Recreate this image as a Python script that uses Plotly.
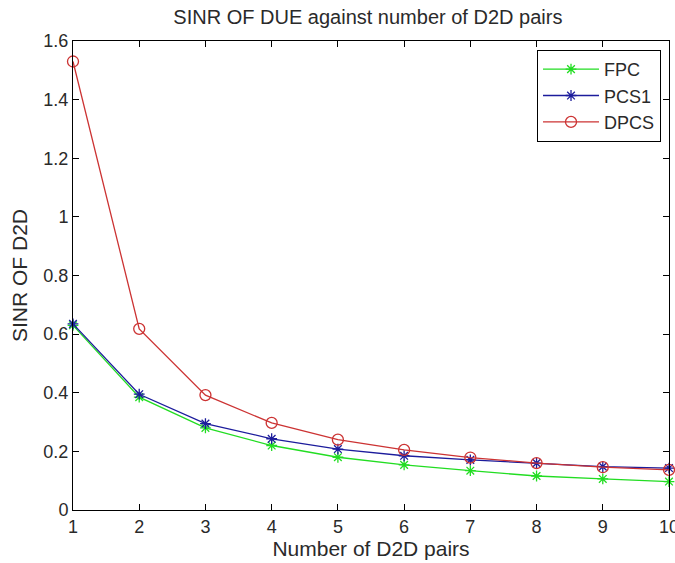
import plotly.graph_objects as go

# Number of D2D pairs
pairs = [1, 2, 3, 4, 5, 6, 7, 8, 9, 10]

# SINR of D2D for each power-control scheme
sinr_fpc = [0.630, 0.385, 0.280, 0.220, 0.180, 0.154, 0.134, 0.116, 0.106, 0.097]
sinr_pcs1 = [0.635, 0.395, 0.295, 0.243, 0.208, 0.185, 0.171, 0.160, 0.148, 0.143]
sinr_dpcs = [1.530, 0.618, 0.392, 0.297, 0.240, 0.205, 0.179, 0.160, 0.146, 0.137]

x_ticks = [1, 2, 3, 4, 5, 6, 7, 8, 9, 10]
y_ticks = [0, 0.2, 0.4, 0.6, 0.8, 1.0, 1.2, 1.4, 1.6]
y_tick_text = ["0", "0.2", "0.4", "0.6", "0.8", "1", "1.2", "1.4", "1.6"]

FONT = "Liberation Sans, Arial, Helvetica, sans-serif"
TEXT = "#2a2a2a"

series = [
    ("FPC", sinr_fpc, "#22dd22", "asterisk-open", 9),
    ("PCS1", sinr_pcs1, "#1c1c9c", "asterisk-open", 9),
    ("DPCS", sinr_dpcs, "#cc3333", "circle-open", 11),
]

fig = go.Figure()
for name, vals, color, symbol, size in series:
    fig.add_trace(go.Scatter(
        x=pairs, y=vals, name=name, mode="lines+markers",
        line=dict(color=color, width=1.3),
        marker=dict(symbol=symbol, size=size, color=color,
                    line=dict(color=color, width=1.3)),
        cliponaxis=False,
    ))

axis_common = dict(
    showline=True, linecolor="black", linewidth=1, mirror="ticks",
    ticks="inside", ticklen=6, tickcolor="black", tickwidth=1,
    showgrid=False, zeroline=False, automargin=False,
    tickfont=dict(family=FONT, size=18, color=TEXT),
)

fig.update_layout(
    width=675, height=563,
    margin=dict(l=73, r=6, t=41, b=53),
    paper_bgcolor="white", plot_bgcolor="white",
    font=dict(family=FONT, color=TEXT),
    title=dict(text="SINR OF DUE against number of D2D pairs",
               x=0.545, xanchor="center", y=0.97, yanchor="middle",
               font=dict(family=FONT, size=20, color=TEXT)),
    xaxis=dict(range=[1, 10], tickvals=x_ticks, ticklabeloverflow="allow",
               title=dict(text="Number of D2D pairs", standoff=4,
                          font=dict(family=FONT, size=21, color=TEXT)),
               **axis_common),
    yaxis=dict(range=[0, 1.6], tickvals=y_ticks, ticktext=y_tick_text,
               title=dict(text="SINR OF D2D", standoff=10,
                          font=dict(family=FONT, size=21, color=TEXT)),
               **axis_common),
    legend=dict(x=0.9866, y=0.981, xanchor="right", yanchor="top",
                bgcolor="white", bordercolor="black", borderwidth=1,
                font=dict(family=FONT, size=18, color=TEXT),
                itemwidth=56, tracegroupgap=0),
    showlegend=True,
)

fig.write_html("out.html")
